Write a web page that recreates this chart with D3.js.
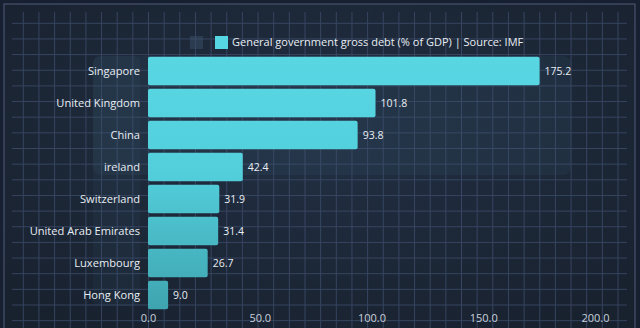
<!DOCTYPE html>
<html><head><meta charset="utf-8">
<script src="https://cdn.jsdelivr.net/npm/d3@7/dist/d3.min.js"></script>
<style>
html,body{margin:0;padding:0;background:#172030;}
svg{display:block;font-family:"Open Sans","Noto Sans",sans-serif;}
</style></head>
<body><svg id="c" width="640" height="328"></svg>
<script>
const categories = ["Singapore","United Kingdom","China","ireland","Switzerland","United Arab Emirates","Luxembourg","Hong Kong"];
const values = [175.2,101.8,93.8,42.4,31.9,31.4,26.7,9.0];
const tickValues = [0,50,100,150,200];
const legendLabel = "General government gross debt (% of GDP) | Source: IMF";

const W=640,H=328;
const FONT="'Open Sans','Noto Sans',sans-serif";
const svg=d3.select("#c");
const defs=svg.append("defs");
const bg=defs.append("radialGradient").attr("id","bg").attr("cx","50%").attr("cy","40%").attr("r","70%");
bg.append("stop").attr("offset","0%").attr("stop-color","#223044");
bg.append("stop").attr("offset","100%").attr("stop-color","#18212e");
const bar=defs.append("linearGradient").attr("id","bar").attr("gradientUnits","userSpaceOnUse")
  .attr("x1",0).attr("y1",55).attr("x2",0).attr("y2",311);
bar.append("stop").attr("offset","0%").attr("stop-color","#58d7e3");
bar.append("stop").attr("offset","45%").attr("stop-color","#53cfdc");
bar.append("stop").attr("offset","100%").attr("stop-color","#3ea4af");

svg.append("rect").attr("width",W).attr("height",H).attr("fill","#172030");
svg.append("rect").attr("x",4).attr("y",4).attr("width",631).attr("height",H).attr("fill","url(#bg)")
  .attr("stroke","#46546e").attr("stroke-width",1.2);

// blueprint grid
const gs=15.65, g0=23.3;
const grid=svg.append("g").attr("stroke","#3e4d6c").attr("stroke-width",1).attr("opacity",0.8);
for(let x=g0;x<628;x+=gs){grid.append("line").attr("x1",x).attr("x2",x).attr("y1",12).attr("y2",H);}
for(let y=g0;y<H;y+=gs){grid.append("line").attr("x1",12).attr("x2",627).attr("y1",y).attr("y2",y);}

// faint panel
svg.append("rect").attr("x",93).attr("y",56).attr("width",478).attr("height",119).attr("rx",8)
  .attr("fill","#3a5a70").attr("opacity",0.18);
svg.append("rect").attr("x",93).attr("y",56).attr("width",47).attr("height",250).attr("rx",6)
  .attr("fill","#3a5a70").attr("opacity",0.12);

const x=d3.scaleLinear().domain([0,200]).range([148,595]);
const y=d3.scaleBand().domain(categories).range([55,311]).paddingInner(0.11).paddingOuter(0.055);

svg.append("g").selectAll("rect").data(values).join("rect")
  .attr("x",x(0)).attr("y",(d,i)=>y(categories[i]))
  .attr("width",d=>x(d)-x(0)).attr("height",y.bandwidth())
  .attr("rx",2).attr("fill","url(#bar)");

svg.append("g").selectAll("text").data(values).join("text")
  .attr("x",d=>x(d)+5).attr("y",(d,i)=>y(categories[i])+y.bandwidth()/2)
  .attr("dy","0.35em").attr("fill","#e9eef4").attr("font-size",10.5)
  .text(d=>d3.format(".1f")(d));

const yAxis=svg.append("g").attr("transform",`translate(${x(0)},0)`)
  .call(d3.axisLeft(y).tickSize(0).tickPadding(8));
yAxis.select(".domain").remove();
yAxis.selectAll("text").attr("fill","#e9eef4").attr("font-size",11.1).attr("font-family",FONT);

const xAxis=svg.append("g").attr("transform","translate(0,309)")
  .call(d3.axisBottom(x).tickValues(tickValues).tickFormat(d3.format(".1f")).tickSize(0).tickPadding(5));
xAxis.select(".domain").remove();
xAxis.selectAll("text").attr("fill","#c9d1db").attr("font-size",11).attr("font-family",FONT);

// legend
svg.append("rect").attr("x",190).attr("y",36).attr("width",13).attr("height",13).attr("fill","#3a5068").attr("opacity",0.5);
svg.append("rect").attr("x",215).attr("y",36).attr("width",13).attr("height",13).attr("fill","#56d5e2");
svg.append("text").attr("x",232).attr("y",42.5).attr("dy","0.35em").attr("fill","#e9eef4")
  .attr("font-size",11).text(legendLabel);
</script></body></html>
